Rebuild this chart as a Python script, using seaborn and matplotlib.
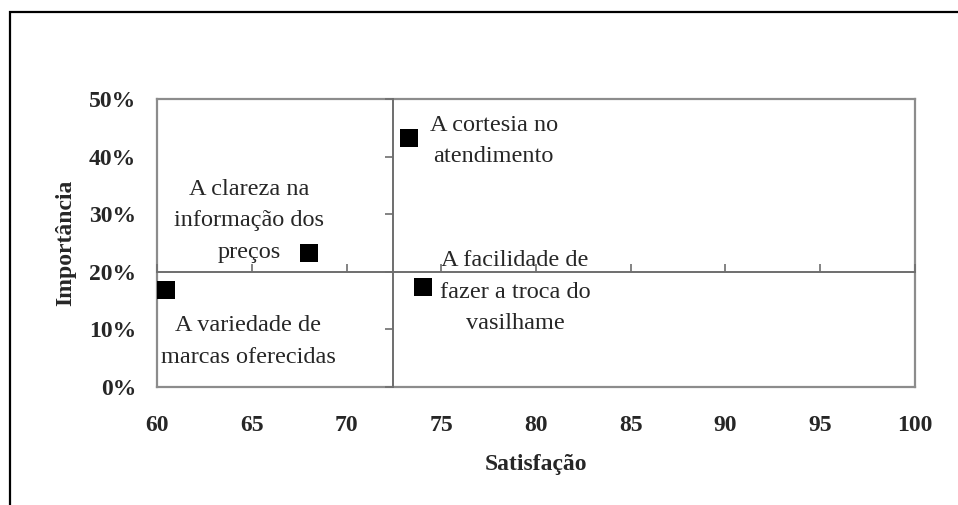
import numpy as np
import pandas as pd
import matplotlib.pyplot as plt
import seaborn as sns
from matplotlib.patches import Rectangle

# data
atributos = ['A variedade de\nmarcas oferecidas',
             'A clareza na\ninformação dos\npreços',
             'A cortesia no\natendimento',
             'A facilidade de\nfazer a troca do\nvasilhame']
satisfacao = [60.5, 68.0, 73.3, 74.05]
importancia = [16.8, 23.3, 43.2, 17.4]
# label offsets (points) relative to each marker
offsets = [(59, -37), (-43, 23), (61, -2), (66, -4)]

x_ticks = [60, 65, 70, 75, 80, 85, 90, 95, 100]
y_ticks = [0, 10, 20, 30, 40, 50]
x_cross = 72.44
y_cross = 20

df = pd.DataFrame({'Satisfação': satisfacao, 'Importância': importancia, 'atributo': atributos})

sns.set_style('white')
plt.rcParams['font.family'] = ['Liberation Serif', 'DejaVu Serif']

fig = plt.figure(figsize=(9.58, 5.05), dpi=100)
ax = fig.add_axes([0.1639, 0.2337, 0.7912, 0.5703])

sns.scatterplot(data=df, x='Satisfação', y='Importância', marker='s', s=175,
                color='black', linewidth=0, ax=ax, zorder=5, clip_on=False)

ax.set_xlim(60, 100)
ax.set_ylim(0, 50)
ax.set_xticks(x_ticks)
ax.set_yticks(y_ticks)
ax.set_xticklabels([str(v) for v in x_ticks], fontsize=17, fontweight='bold')
ax.set_yticklabels([f'{v}%' for v in y_ticks], fontsize=17, fontweight='bold')
ax.tick_params(axis='both', length=0)
ax.tick_params(axis='x', pad=20)
ax.tick_params(axis='y', pad=15)
for sp in ax.spines.values():
    sp.set_visible(True)
    sp.set_color('#8c8c8c')
    sp.set_linewidth(1.6)

ax.set_xlabel('Satisfação', fontsize=17, fontweight='bold', labelpad=13)
ax.set_ylabel('Importância', fontsize=17, fontweight='bold', labelpad=9)

# crossing axes with tick marks, no labels
ax2 = fig.add_axes(ax.get_position(), sharex=ax, sharey=ax)
ax2.patch.set_alpha(0)
ax2.spines['top'].set_visible(False)
ax2.spines['right'].set_visible(False)
ax2.spines['left'].set_position(('data', x_cross))
ax2.spines['bottom'].set_position(('data', y_cross))
for side in ['left', 'bottom']:
    ax2.spines[side].set_color('#6e6e6e')
    ax2.spines[side].set_linewidth(1.4)
ax2.tick_params(axis='x', direction='in', length=6, width=1.2, color='#6e6e6e',
                labelbottom=False, bottom=True)
ax2.tick_params(axis='y', direction='out', length=6, width=1.2, color='#6e6e6e',
                labelleft=False, left=True)
ax2.set_xlabel('')
ax2.set_ylabel('')

for name, xv, yv, off in zip(atributos, satisfacao, importancia, offsets):
    ax.annotate(name, (xv, yv), xytext=off, textcoords='offset points',
                ha='center', va='center', multialignment='center',
                fontsize=17.5, linespacing=1.65, zorder=6)

# outer chart border (right and bottom edges fall outside the image)
fig.patches.append(Rectangle((9.5 / 958, -0.1), 1.2, 1 - 11.5 / 505 + 0.1,
                             transform=fig.transFigure, fill=False,
                             edgecolor='black', linewidth=1.6, figure=fig))

fig.savefig('out.png', dpi=100)
